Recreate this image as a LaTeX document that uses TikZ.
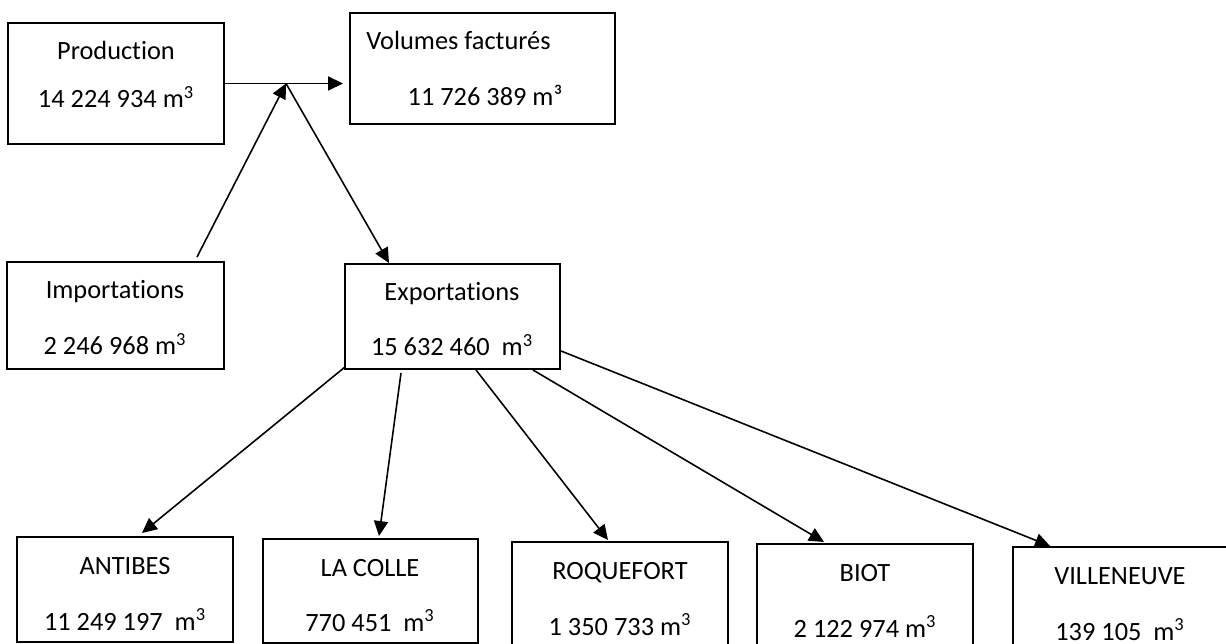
\documentclass[tikz,border=0pt]{standalone}
\usepackage{fontspec}
\setmainfont{Carlito}[Ligatures=NoCommon]
\usetikzlibrary{arrows.meta,calc}
\newcommand\pxbox[5]{\node[box,minimum width={(#4-#2)*0.02cm},minimum height={(#5-#3)*0.02cm}] (#1) at (#2,#3) {};}
\begin{document}
\begin{tikzpicture}[x=0.02cm,y=-0.02cm,
 box/.style={draw,line width=1.1pt,rectangle,inner sep=0pt,outer sep=0pt,anchor=north west},
 txt/.style={inner sep=0pt,anchor=base,font=\fontsize{15}{18}\selectfont},
 arr/.style={line width=0.9pt,-{Triangle[length=8.5pt,width=8pt]}}]
\useasboundingbox (0,0) rectangle (1226,644);
\clip (0,0) rectangle (1226,644);
% boxes
\pxbox{prod}{8}{23}{224}{144}
\pxbox{vol}{350}{13}{615}{124}
\pxbox{imp}{7}{262}{224}{369}
\pxbox{exp}{345}{264}{560}{369}
\pxbox{ant}{17}{537}{233}{642}
\pxbox{lac}{263}{539}{478}{643}
\pxbox{roq}{512}{542}{728}{650}
\pxbox{bio}{757}{544}{973}{652}
\pxbox{vil}{1013}{547}{1240}{655}
% texts
\node[txt] (prodA) at (116,60) {Production};
\node[txt] (prodB) at (116,108) {14 224 934 m\textsuperscript{3}};
\node[txt,anchor=base west] (volA) at (366,50) {Volumes facturés};
\node[txt] (volB) at (485,106) {11 726 389 m³};
\node[txt] (impA) at (115,299) {Importations};
\node[txt] (impB) at (115,355) {2 246 968 m\textsuperscript{3}};
\node[txt] (expA) at (452,301) {Exportations};
\node[txt] (expB) at (452,356) {15 632 460\ \ m\textsuperscript{3}};
\node[txt] (antA) at (125,574) {ANTIBES};
\node[txt] (antB) at (125,630) {11 249 197\ \ m\textsuperscript{3}};
\node[txt] (lacA) at (370,576) {LA COLLE};
\node[txt] (lacB) at (370,631) {770 451\ \ m\textsuperscript{3}};
\node[txt] (roqA) at (620,579) {ROQUEFORT};
\node[txt] (roqB) at (620,635) {1 350 733 m\textsuperscript{3}};
\node[txt] (bioA) at (865,581) {BIOT};
\node[txt] (bioB) at (865,637) {2 122 974 m\textsuperscript{3}};
\node[txt] (vilA) at (1120,584) {VILLENEUVE};
\node[txt] (vilB) at (1120,640) {139 105\ \ m\textsuperscript{3}};
% connectors
\coordinate (J) at (286,83.5);
\draw[arr] (prod.east) -- ($(vol.west|-J)+(-7,0)$);
\draw[arr] ($(imp.north west)+(190,-5)$) -- (J);
\draw[arr] (J) -- ($(exp.north west)+(44,-1)$);
\draw[arr] ($(exp.south west)+(0,-2)$) -- ($(ant.north west)+(125,-4)$);
\draw[arr] ($(exp.south west)+(56,4)$) -- ($(lac.north west)+(116,-3)$);
\draw[arr] ($(exp.south west)+(131,1)$) -- ($(roq.north west)+(96,-2)$);
\draw[arr] ($(exp.south west)+(188,1)$) -- ($(bio.north west)+(67,-2)$);
\draw[arr] ($(exp.south east)+(1,-18)$) -- ($(vil.north west)+(37,-1)$);
\end{tikzpicture}
\end{document}
